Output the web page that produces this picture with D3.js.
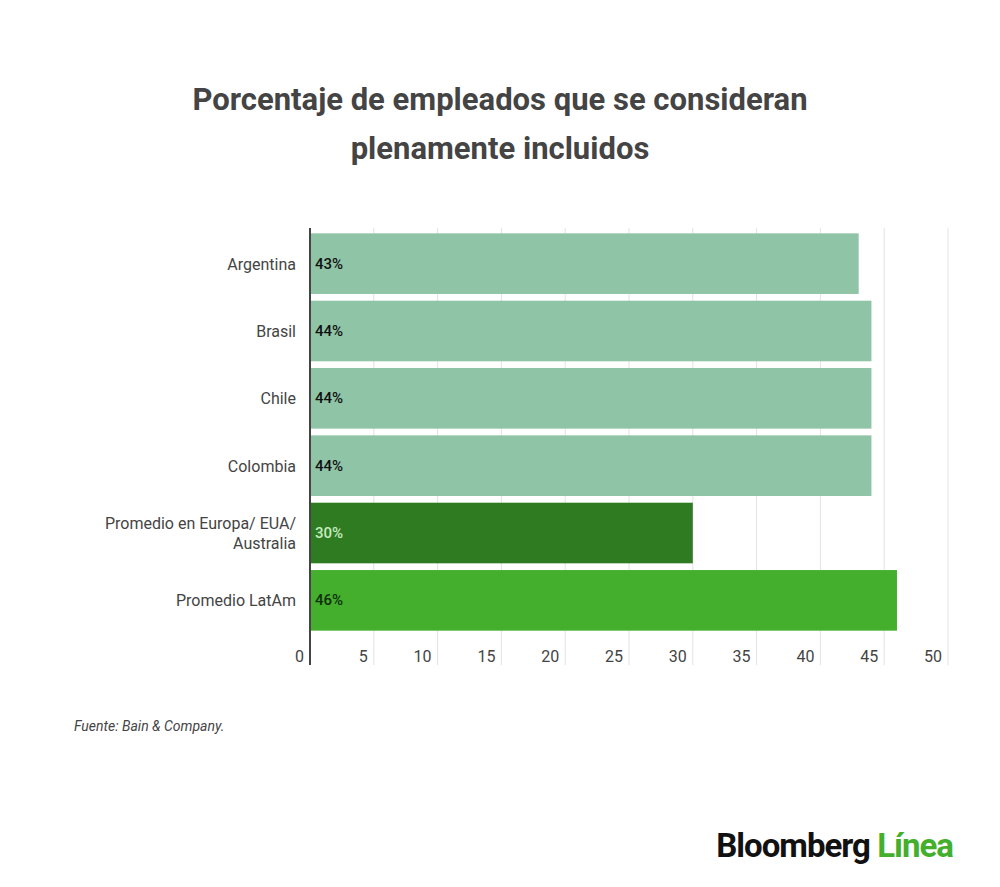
<!DOCTYPE html>
<html><head><meta charset="utf-8">
<script src="https://cdn.jsdelivr.net/npm/d3@7"></script>
<style>body{margin:0;background:#fff;font-family:Roboto,sans-serif}</style>
</head><body>
<svg id="c" width="1000" height="887"></svg>
<script>
const categories = [["Argentina"],["Brasil"],["Chile"],["Colombia"],["Promedio en Europa/ EUA/","Australia"],["Promedio LatAm"]];
const values = [43,44,44,44,30,46];
const labels = ["43%","44%","44%","44%","30%","46%"];
const barColors = ["#8fc4a6","#8fc4a6","#8fc4a6","#8fc4a6","#2e7b22","#43af2c"];
const labelColors = ["#111","#111","#111","#111","#c8ecc0","#0f2e0a"];
const ticks = [0,5,10,15,20,25,30,35,40,45,50];

const svg = d3.select("#c");
svg.append("text").attr("x",500).attr("y",110).attr("text-anchor","middle")
  .attr("font-size",31).attr("font-weight",700).attr("fill","#444").text("Porcentaje de empleados que se consideran");
svg.append("text").attr("x",500).attr("y",159).attr("text-anchor","middle")
  .attr("font-size",31).attr("font-weight",700).attr("fill","#444").text("plenamente incluidos");

const x = d3.scaleLinear().domain([0,50]).range([310,948]);
const y = d3.scaleBand().domain(d3.range(values.length)).range([232,632]).paddingInner(0.1).paddingOuter(0.02);

svg.append("g").selectAll("line").data(ticks.slice(1)).join("line")
  .attr("x1",d=>x(d)).attr("x2",d=>x(d)).attr("y1",228).attr("y2",665)
  .attr("stroke","#e2e2e2").attr("stroke-width",1);

svg.append("g").selectAll("rect").data(values).join("rect")
  .attr("x",x(0)).attr("y",(d,i)=>y(i)).attr("width",d=>x(d)-x(0)).attr("height",y.bandwidth())
  .attr("fill",(d,i)=>barColors[i]);

svg.append("g").selectAll("text").data(labels).join("text")
  .attr("x",x(0)+5).attr("y",(d,i)=>y(i)+y.bandwidth()/2+5).attr("font-size",15).attr("font-weight",500)
  .attr("fill",(d,i)=>labelColors[i]).text(d=>d);

const cat = svg.append("g").selectAll("text").data(categories).join("text")
  .attr("text-anchor","end").attr("font-size",16).attr("fill","#444")
  .attr("y",(d,i)=>y(i)+y.bandwidth()/2+6-(d.length-1)*10);
cat.selectAll("tspan").data(d=>d).join("tspan").attr("x",296).attr("dy",(d,j)=>j?20:0).text(d=>d);

svg.append("line").attr("x1",x(0)).attr("x2",x(0)).attr("y1",228).attr("y2",665).attr("stroke","#444").attr("stroke-width",2);

svg.append("g").selectAll("text").data(ticks).join("text")
  .attr("x",d=>x(d)-6).attr("y",662).attr("text-anchor","end").attr("font-size",16).attr("fill","#444").text(d=>d);

svg.append("text").attr("x",74).attr("y",731).attr("font-size",14).attr("font-style","italic").attr("fill","#444").text("Fuente: Bain & Company.");

const logo = svg.append("text").attr("x",953).attr("y",857).attr("text-anchor","end").attr("font-size",33).attr("font-weight",700).attr("letter-spacing",-1);
logo.append("tspan").attr("fill","#111").text("Bloomberg ");
logo.append("tspan").attr("fill","#43af2c").text("Línea");
</script>
</body></html>
